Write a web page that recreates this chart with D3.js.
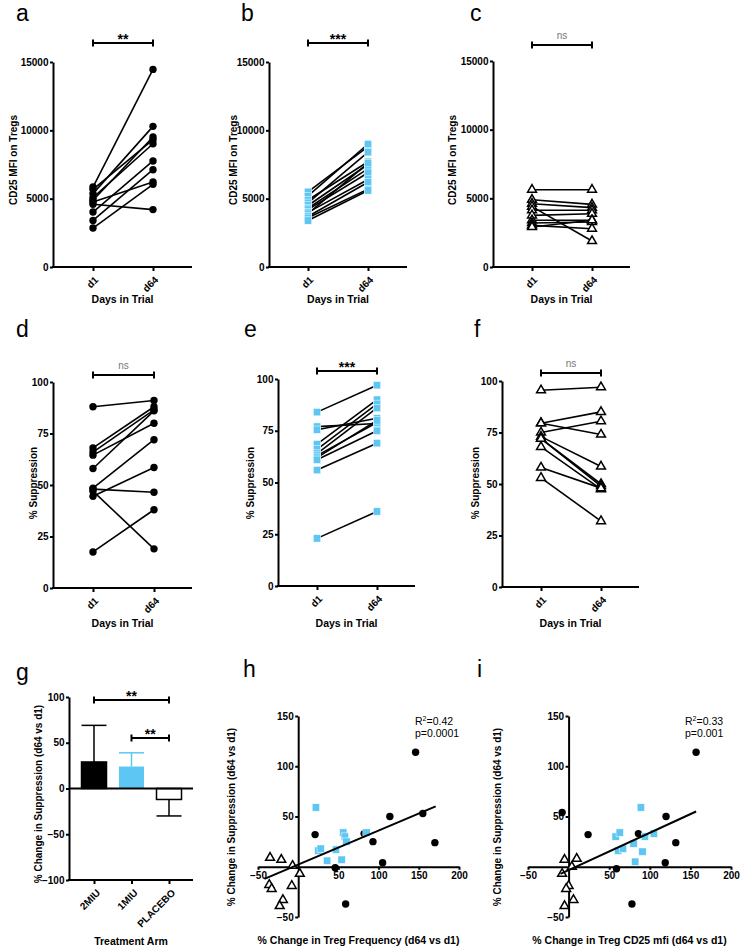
<!DOCTYPE html>
<html>
<head>
<meta charset="utf-8">
<script src="https://cdn.jsdelivr.net/npm/d3@7"></script>
<style>
body { margin: 0; background: #fff; }
svg text { font-family: "Liberation Sans", Arial, sans-serif; }
.tk text { font-size: 10px; font-weight: bold; fill: #000; }
.tk path, .tk line { stroke: #000; stroke-width: 2; }
</style>
</head>
<body>
<svg id="fig" width="742" height="947"></svg>
<script>
// ---- data ----
var days = ["d1", "d64"];

var aD1  = [5850, 5680, 5370, 5070, 4880, 4760, 4590, 4020, 3410, 2850];
var aD64 = [14460, 9320, 10290, 9020, 9510, 6220, 4200, 7760, 7120, 6050];

var bD1  = [5500, 5200, 4900, 4700, 4500, 4300, 4200, 4000, 3900, 3700, 3600, 3400];
var bD64 = [8800, 9000, 7700, 8400, 7500, 7200, 6900, 6400, 7600, 6200, 5700, 5600];

var cD1  = [5630, 4900, 4610, 4400, 4130, 3760, 3400, 3200, 3030, 2910];
var cD64 = [5630, 4560, 4320, 1890, 4130, 3880, 3400, 3280, 2790, 3400];

var dD1  = [88, 68, 66, 64.5, 58, 48.5, 48, 47, 44.5, 17.5];
var dD64 = [91, 88, 86.5, 80, 86, 72, 46.5, 19, 58.5, 38];

var eD1  = [84, 77, 75.5, 68.5, 66, 64, 63, 62, 61, 56, 23];
var eD64 = [97, 78.5, 81, 90, 88, 86, 79, 80, 75, 69, 36];

var fD1  = [95.5, 79.5, 79.5, 75, 73, 72, 72, 68, 58, 53];
var fD64 = [97, 85, 74, 80.5, 58.5, 50, 49, 47.5, 48, 32];

var mfiTicks = [0, 5000, 10000, 15000];
var supTicks = [0, 25, 50, 75, 100];

var arms = ["2MIU", "1MIU", "PLACEBO"];
var armMean = [29, 24, -12];
var armErrEnd = [69, 39, -30];
var gTicks = [-100, -50, 0, 50, 100];

var hCircles = [[146, 114], [114, 50], [155, 53], [170, 24], [93, 25], [82, 33], [21, 32], [105, 4], [46, -1], [59, -37]];
var hSquares = [[22, 59], [56, 34], [58, 30], [60, 25], [85, 34], [25, 16], [28, 18], [36, 6], [47, 17], [54, 7]];
var hTris    = [[-35, 9], [-21, 7], [-7, 1], [2, -7], [-36, -18], [-33, -22], [-8, -19], [-19, -33], [-23, -39]];
var hFit     = [[-42, -12], [171, 60]];

var iCircles = [[157, 114], [120, 50], [-8, 54], [24, 32], [86, 33], [132, 24], [119, 4], [59, -2], [78, -37]];
var iSquares = [[89, 59], [58, 30], [63, 34], [61, 16], [67, 18], [80, 23], [82, 5], [91, 15], [94, 30], [105, 33]];
var iTris    = [[-5, 7], [10, 8], [4, 0], [-8, -7], [0, -19], [-3, -22], [6, -33], [-5, -39]];
var iFit     = [[-10, -7], [157, 55]];

var scatTicksX = [-50, 50, 100, 150, 200];
var scatTicksY = [-50, 50, 100, 150];

// ---- drawing ----
var BLUE = "#5ec6f2";
var svg = d3.select("#fig");
svg.append("rect").attr("width", 742).attr("height", 947).attr("fill", "#fff");

function marks(g, pts, type) {
  if (type === "circle") {
    g.selectAll(null).data(pts).join("circle")
      .attr("cx", d => d[0]).attr("cy", d => d[1]).attr("r", 3.7).attr("fill", "#000");
  } else if (type === "square") {
    g.selectAll(null).data(pts).join("rect")
      .attr("x", d => d[0] - 3.7).attr("y", d => d[1] - 3.7)
      .attr("width", 7.4).attr("height", 7.4)
      .attr("fill", BLUE).attr("stroke", "#fff").attr("stroke-width", 0.5);
  } else {
    g.selectAll(null).data(pts).join("path")
      .attr("d", d3.symbol(d3.symbolTriangle, 34)())
      .attr("transform", d => "translate(" + d[0] + "," + d[1] + ")")
      .attr("fill", "#fff").attr("stroke", "#000").attr("stroke-width", 1.5);
  }
}

function letter(txt, x, y) {
  svg.append("text").attr("x", x).attr("y", y).attr("font-size", 23).text(txt);
}

function yLabel(txt, x, y) {
  svg.append("text").attr("transform", "translate(" + x + "," + y + ") rotate(-90)")
    .attr("text-anchor", "middle").attr("dy", "0.35em")
    .attr("font-size", 10).attr("font-weight", "bold").text(txt);
}

function xLabel(txt, x, y) {
  svg.append("text").attr("x", x).attr("y", y).attr("text-anchor", "middle")
    .attr("font-size", 10.5).attr("font-weight", "bold").text(txt);
}

function bracket(x1, x2, y, sig) {
  svg.append("path").attr("d", "M" + x1 + "," + (y - 3.5) + "V" + (y + 3.5) + "M" + x1 + "," + y + "H" + x2 + "M" + x2 + "," + (y - 3.5) + "V" + (y + 3.5))
    .attr("stroke", "#000").attr("stroke-width", 2).attr("fill", "none");
  var t = svg.append("text").attr("x", (x1 + x2) / 2).attr("text-anchor", "middle").text(sig);
  if (sig === "ns") t.attr("y", y - 6).attr("font-size", 10).attr("fill", "#777");
  else t.attr("y", y + 1).attr("font-size", 14).attr("font-weight", "bold");
}

function paired(p, before, after, type, yMax, ticks) {
  var g = svg.append("g");
  var y = d3.scaleLinear().domain([0, yMax]).range([p.yBot, p.yTop]);
  var x = d3.scalePoint().domain(days).range([p.xd1, p.xd64]);

  g.append("g").attr("class", "tk").attr("transform", "translate(" + p.x0 + ",0)")
    .call(d3.axisLeft(y).tickValues(ticks).tickSize(3).tickPadding(1.5).tickSizeOuter(0).tickFormat(d3.format("d")));
  var xa = g.append("g").attr("class", "tk").attr("transform", "translate(0," + p.yBot + ")")
    .call(d3.axisBottom(x).tickSize(4).tickSizeOuter(0));
  xa.select(".domain").attr("d", "M" + (p.x0 - 1) + ",0H" + p.x1);
  xa.selectAll("text").attr("y", 0).attr("dy", "0.35em")
    .attr("transform", "translate(3,11) rotate(-45)").style("text-anchor", "end");

  g.selectAll("line.pair").data(d3.zip(before, after)).join("line").attr("class", "pair")
    .attr("x1", x("d1")).attr("x2", x("d64"))
    .attr("y1", d => y(d[0])).attr("y2", d => y(d[1]))
    .attr("stroke", "#000").attr("stroke-width", 1.6);
  marks(g, before.map(v => [x("d1"), y(v)]).concat(after.map(v => [x("d64"), y(v)])), type);

  bracket(p.xd1, p.xd64, p.brY, p.sig);
  letter(p.letter, p.lx, p.ly);
  yLabel(p.yLab, p.ylx, p.yly);
  xLabel("Days in Trial", (p.x0 + p.x1) / 2, p.xlY);
}

paired({letter: "a", lx: 16, ly: 21, x0: 53, x1: 192, xd1: 93, xd64: 153, yTop: 62, yBot: 267,
        brY: 43, sig: "**", yLab: "CD25 MFI on Tregs", ylx: 13, yly: 160, xlY: 303}, aD1, aD64, "circle", 15000, mfiTicks);
paired({letter: "b", lx: 241, ly: 21, x0: 269, x1: 407, xd1: 308, xd64: 368, yTop: 62, yBot: 267,
        brY: 43, sig: "***", yLab: "CD25 MFI on Tregs", ylx: 233, yly: 160, xlY: 303}, bD1, bD64, "square", 15000, mfiTicks);
paired({letter: "c", lx: 470, ly: 21, x0: 493, x1: 630, xd1: 532, xd64: 592, yTop: 61, yBot: 267,
        brY: 45, sig: "ns", yLab: "CD25 MFI on Tregs", ylx: 452, yly: 160, xlY: 303}, cD1, cD64, "tri", 15000, mfiTicks);
paired({letter: "d", lx: 16, ly: 337, x0: 53, x1: 192, xd1: 93, xd64: 154, yTop: 382, yBot: 588,
        brY: 375, sig: "ns", yLab: "% Suppression", ylx: 33, yly: 483, xlY: 627}, dD1, dD64, "circle", 100, supTicks);
paired({letter: "e", lx: 244, ly: 337, x0: 278, x1: 415, xd1: 317, xd64: 377, yTop: 379, yBot: 586,
        brY: 371, sig: "***", yLab: "% Suppression", ylx: 250, yly: 483, xlY: 627}, eD1, eD64, "square", 100, supTicks);
paired({letter: "f", lx: 474, ly: 337, x0: 502, x1: 639, xd1: 541, xd64: 601, yTop: 381, yBot: 587,
        brY: 373, sig: "ns", yLab: "% Suppression", ylx: 475, yly: 483, xlY: 627}, fD1, fD64, "tri", 100, supTicks);

// ---- panel g: bar chart ----
(function () {
  var g = svg.append("g");
  var y = d3.scaleLinear().domain([-100, 100]).range([880, 697]);
  var x = d3.scalePoint().domain(arms).range([94, 169]);
  var bw = 25;
  var fills = ["#000", BLUE, "#fff"];

  g.append("g").attr("class", "tk").attr("transform", "translate(69,0)")
    .call(d3.axisLeft(y).tickValues(gTicks).tickSize(3).tickPadding(1.5).tickSizeOuter(0));
  var xa = g.append("g").attr("class", "tk").attr("transform", "translate(0," + y(-100) + ")")
    .call(d3.axisBottom(x).tickSize(4).tickSizeOuter(0));
  xa.select(".domain").attr("d", "M68,0H193");
  xa.selectAll("text").attr("y", 0).attr("dy", "0.35em")
    .attr("transform", "translate(4,11) rotate(-45)").style("text-anchor", "end");

  // error bars
  arms.forEach(function (a, i) {
    var cx = x(a);
    var col = i === 1 ? BLUE : "#000";
    g.append("line").attr("x1", cx).attr("x2", cx).attr("y1", y(armMean[i])).attr("y2", y(armErrEnd[i]))
      .attr("stroke", col).attr("stroke-width", 1.5);
    g.append("line").attr("x1", cx - bw / 2).attr("x2", cx + bw / 2).attr("y1", y(armErrEnd[i])).attr("y2", y(armErrEnd[i]))
      .attr("stroke", col).attr("stroke-width", 1.5);
  });
  g.selectAll("rect.bar").data(arms).join("rect").attr("class", "bar")
    .attr("x", d => x(d) - bw / 2).attr("width", bw)
    .attr("y", (d, i) => y(Math.max(0, armMean[i])))
    .attr("height", (d, i) => Math.abs(y(armMean[i]) - y(0)))
    .attr("fill", (d, i) => fills[i])
    .attr("stroke", (d, i) => i === 1 ? "none" : "#000").attr("stroke-width", 1.5);
  g.append("line").attr("x1", 69).attr("x2", 193).attr("y1", y(0)).attr("y2", y(0))
    .attr("stroke", "#000").attr("stroke-width", 2);

  bracket(x("2MIU"), x("PLACEBO"), 700, "**");
  bracket(x("1MIU"), x("PLACEBO"), 738, "**");
  letter("g", 16, 680);
  yLabel("% Change in Suppression (d64 vs d1)", 38, 794);
  xLabel("Treatment Arm", 131, 945);
})();

// ---- panels h and i: scatter plots ----
function scatter(p, circles, squares, tris, fit, r2, pv) {
  var g = svg.append("g");
  var x = d3.scaleLinear().domain([-50, 200]).range([p.xL, p.xR]);
  var y = d3.scaleLinear().domain([-50, 150]).range([917, 716]);

  g.append("g").attr("class", "tk").attr("transform", "translate(" + x(0) + ",0)")
    .call(d3.axisLeft(y).tickValues(scatTicksY).tickSize(3).tickPadding(1.5).tickSizeOuter(0));
  g.append("g").attr("class", "tk").attr("transform", "translate(0," + y(0) + ")")
    .call(d3.axisBottom(x).tickValues(scatTicksX).tickSize(3).tickPadding(2).tickSizeOuter(0));

  var sx = pts => pts.map(d => [x(d[0]), y(d[1])]);
  marks(g, sx(circles), "circle");
  marks(g, sx(squares), "square");
  marks(g, sx(tris), "tri");
  g.append("line").attr("x1", x(fit[0][0])).attr("y1", y(fit[0][1]))
    .attr("x2", x(fit[1][0])).attr("y2", y(fit[1][1]))
    .attr("stroke", "#000").attr("stroke-width", 2);

  var t = svg.append("text").attr("x", p.sx).attr("y", 725).attr("font-size", 10.5);
  t.append("tspan").text("R");
  t.append("tspan").attr("dy", -4).attr("font-size", 7).text("2");
  t.append("tspan").attr("dy", 4).text("=" + r2);
  svg.append("text").attr("x", p.sx).attr("y", 737).attr("font-size", 10.5).text("p=" + pv);

  letter(p.letter, p.lx, 677);
  yLabel("% Change in Suppression  (d64 vs d1)", p.ylx, 817);
  xLabel(p.xLab, (p.xL + p.xR) / 2, 944);
}

scatter({letter: "h", lx: 243, xL: 258, xR: 459, ylx: 231, sx: 415,
         xLab: "% Change in Treg Frequency (d64 vs d1)"}, hCircles, hSquares, hTris, hFit, "0.42", "0.0001");
scatter({letter: "i", lx: 477, xL: 528, xR: 731, ylx: 497, sx: 685,
         xLab: "% Change in Treg CD25 mfi (d64 vs d1)"}, iCircles, iSquares, iTris, iFit, "0.33", "0.001");
</script>
</body>
</html>
